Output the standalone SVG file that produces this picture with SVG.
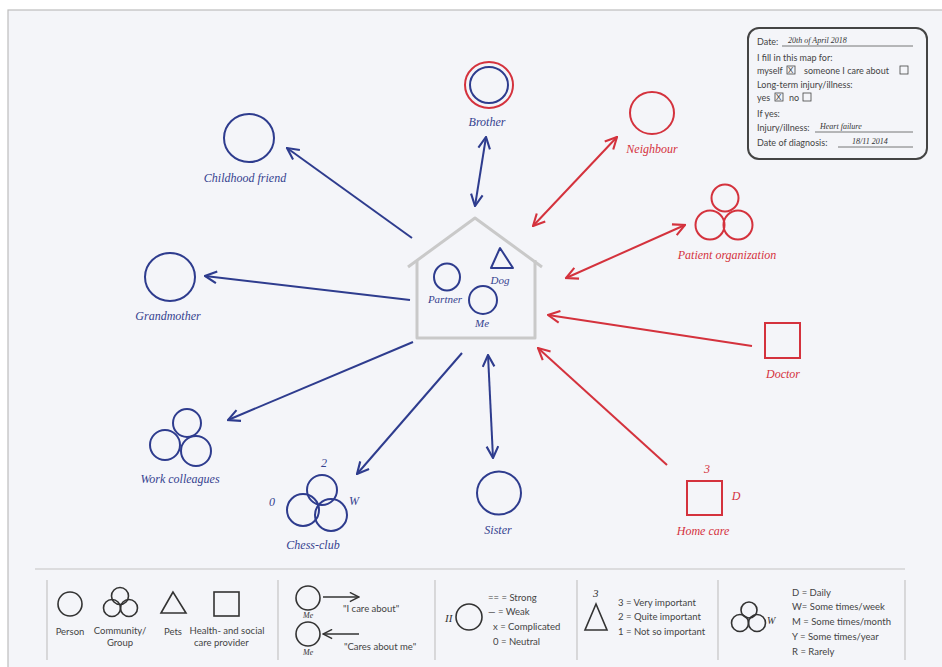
<svg xmlns="http://www.w3.org/2000/svg" width="942" height="667" viewBox="0 0 942 667">
<defs>
<style>
.bl{fill:none;stroke:#2e3c8e;stroke-width:2}
.rd{fill:none;stroke:#d4323d;stroke-width:2}
.lg{fill:none;stroke:#333;stroke-width:1.6}
.sb{font-family:"Liberation Serif",serif;font-style:italic;font-size:12px;fill:#34428f;text-anchor:middle}
.sr{font-family:"Liberation Serif",serif;font-style:italic;font-size:12px;fill:#d4323d;text-anchor:middle}
.t{font-family:Lato,"Liberation Sans",sans-serif;font-size:9.5px;fill:#444}
.tc{font-family:Lato,"Liberation Sans",sans-serif;font-size:9.5px;fill:#444;text-anchor:middle}
.f{font-family:Lato,"Liberation Sans",sans-serif;font-size:9px;fill:#444}
.fs{font-family:"Liberation Serif",serif;font-style:italic;font-size:8px;fill:#333}
.ul{stroke:#555;stroke-width:0.8}
.house{fill:none;stroke:#c9c9c9;stroke-width:3;stroke-linejoin:round}
.sep{stroke:#c4c4c4;stroke-width:1.2}
</style>
<marker id="mb" viewBox="0 0 12 12" refX="11" refY="6" markerWidth="14" markerHeight="14" markerUnits="userSpaceOnUse" orient="auto-start-reverse"><path d="M1,1 L11,6 L1,11" fill="none" stroke="#2e3c8e" stroke-width="1.8"/></marker>
<marker id="mr" viewBox="0 0 12 12" refX="11" refY="6" markerWidth="14" markerHeight="14" markerUnits="userSpaceOnUse" orient="auto-start-reverse"><path d="M1,1 L11,6 L1,11" fill="none" stroke="#d4323d" stroke-width="1.8"/></marker>
<marker id="mk" viewBox="0 0 12 12" refX="11" refY="6" markerWidth="11" markerHeight="11" markerUnits="userSpaceOnUse" orient="auto"><path d="M1,1 L11,6 L1,11" fill="none" stroke="#333" stroke-width="1.6"/></marker>
</defs>
<rect x="0" y="0" width="942" height="667" fill="#ffffff"/>
<rect x="8" y="10" width="940" height="665" fill="#f4f5f9" stroke="#bdbdbd" stroke-width="1.2"/>

<g id="connectors">
<line class="bl" x1="412" y1="238" x2="287" y2="148" marker-end="url(#mb)"/>
<line class="bl" x1="410" y1="300" x2="205" y2="276" marker-end="url(#mb)"/>
<line class="bl" x1="413" y1="342" x2="228" y2="420" marker-end="url(#mb)"/>
<line class="bl" x1="462" y1="353" x2="357" y2="474" marker-end="url(#mb)"/>
<line class="bl" x1="488" y1="355" x2="493" y2="458" marker-start="url(#mb)" marker-end="url(#mb)"/>
<line class="bl" x1="475" y1="206" x2="486" y2="137" marker-start="url(#mb)" marker-end="url(#mb)"/>
<line class="rd" x1="533" y1="226" x2="617" y2="137" marker-start="url(#mr)" marker-end="url(#mr)"/>
<line class="rd" x1="566" y1="278" x2="685" y2="225" marker-start="url(#mr)" marker-end="url(#mr)"/>
<line class="rd" x1="752" y1="346" x2="548" y2="315" marker-end="url(#mr)"/>
<line class="rd" x1="667" y1="465" x2="538" y2="348" marker-end="url(#mr)"/>
</g>

<g id="house">
<polyline class="house" points="408,267 475,218 542,267"/>
<polyline class="house" points="417,260 417,338 535,338 535,260"/>
</g>
<g id="partner">
<ellipse class="bl" cx="447" cy="277" rx="13" ry="13.5"/>
<text class="sb" x="445" y="303" style="font-size:11px">Partner</text>
</g>
<g id="dog">
<polygon class="bl" points="500,248 491,268 513,268" stroke-linejoin="round"/>
<text class="sb" x="500" y="284" style="font-size:11px">Dog</text>
</g>
<g id="me">
<ellipse class="bl" cx="483" cy="300" rx="14" ry="14"/>
<text class="sb" x="482" y="327" style="font-size:11px">Me</text>
</g>

<g id="brother">
<ellipse class="rd" cx="489" cy="85" rx="24" ry="23"/>
<ellipse class="bl" cx="489" cy="85" rx="19" ry="18"/>
<text class="sb" x="487" y="126">Brother</text>
</g>
<g id="neighbour">
<ellipse class="rd" cx="652" cy="113" rx="22" ry="21"/>
<text class="sr" x="652" y="153">Neighbour</text>
</g>
<g id="childhood-friend">
<ellipse class="bl" cx="249" cy="138" rx="25" ry="24"/>
<text class="sb" x="245" y="182">Childhood friend</text>
</g>
<g id="grandmother">
<ellipse class="bl" cx="170" cy="277" rx="25" ry="24"/>
<text class="sb" x="168" y="320">Grandmother</text>
</g>
<g id="patient-organization">
<circle class="rd" cx="725" cy="198" r="13.5"/>
<circle class="rd" cx="710" cy="225" r="14.5"/>
<circle class="rd" cx="738" cy="225" r="14.5"/>
<text class="sr" x="727" y="259">Patient organization</text>
</g>
<g id="doctor">
<rect class="rd" x="765" y="323" width="35" height="35"/>
<text class="sr" x="783" y="378">Doctor</text>
</g>
<g id="work-colleagues">
<circle class="bl" cx="187" cy="423" r="14"/>
<circle class="bl" cx="165" cy="445" r="15"/>
<circle class="bl" cx="196" cy="451" r="15"/>
<text class="sb" x="180" y="483">Work colleagues</text>
</g>
<g id="chess-club">
<circle class="bl" cx="322" cy="490" r="15"/>
<circle class="bl" cx="303" cy="510" r="16"/>
<circle class="bl" cx="331" cy="515" r="16"/>
<text class="sb" x="324" y="467">2</text>
<text class="sb" x="272" y="506">0</text>
<text class="sb" x="354" y="505">W</text>
<text class="sb" x="313" y="549">Chess-club</text>
</g>
<g id="sister">
<ellipse class="bl" cx="499" cy="493" rx="22" ry="21.5"/>
<text class="sb" x="498" y="534">Sister</text>
</g>
<g id="home-care">
<rect class="rd" x="687" y="481" width="35" height="34"/>
<text class="sr" x="707" y="473">3</text>
<text class="sr" x="736" y="500">D</text>
<text class="sr" x="703" y="535">Home care</text>
</g>

<g id="form">
<rect x="748" y="28" width="179" height="131" rx="11" fill="none" stroke="#444" stroke-width="2"/>
<text class="f" x="757" y="45">Date:</text>
<line class="ul" x1="782" y1="46" x2="913" y2="46"/>
<text class="fs" x="788" y="43">20th of April 2018</text>
<text class="f" x="757" y="61">I fill in this map for:</text>
<text class="f" x="757" y="74">myself</text>
<rect x="787" y="66" width="8" height="8" fill="none" stroke="#444" stroke-width="0.8"/>
<text class="f" x="788" y="73" style="font-size:8px">X</text>
<text class="f" x="804" y="74">someone I care about</text>
<rect x="900" y="66" width="8" height="8" fill="none" stroke="#444" stroke-width="0.8"/>
<text class="f" x="757" y="88">Long-term injury/illness:</text>
<text class="f" x="757" y="101">yes</text>
<rect x="775" y="93" width="8" height="8" fill="none" stroke="#444" stroke-width="0.8"/>
<text class="f" x="776" y="100" style="font-size:8px">X</text>
<text class="f" x="789" y="101">no</text>
<rect x="803" y="93" width="8" height="8" fill="none" stroke="#444" stroke-width="0.8"/>
<text class="f" x="757" y="117">If yes:</text>
<text class="f" x="757" y="131">Injury/illness:</text>
<line class="ul" x1="815" y1="132" x2="913" y2="132"/>
<text class="fs" x="820" y="129">Heart failure</text>
<text class="f" x="757" y="146">Date of diagnosis:</text>
<line class="ul" x1="838" y1="147" x2="913" y2="147"/>
<text class="fs" x="852" y="144">18/11 2014</text>
</g>

<g id="legend">
<line class="sep" x1="35" y1="569" x2="905" y2="569"/>
<line class="sep" x1="47" y1="580" x2="47" y2="660"/>
<line class="sep" x1="278" y1="580" x2="278" y2="660"/>
<line class="sep" x1="435" y1="580" x2="435" y2="660"/>
<line class="sep" x1="577" y1="580" x2="577" y2="660"/>
<line class="sep" x1="718" y1="580" x2="718" y2="660"/>
<line class="sep" x1="905" y1="580" x2="905" y2="660"/>

<circle class="lg" cx="70" cy="604" r="12"/>
<text class="tc" x="70" y="635">Person</text>
<circle class="lg" cx="120" cy="596" r="8.5"/>
<circle class="lg" cx="112" cy="608" r="8.5"/>
<circle class="lg" cx="129" cy="608" r="8.5"/>
<text class="tc" x="120" y="634">Community/</text>
<text class="tc" x="120" y="646">Group</text>
<polygon class="lg" points="173,592 161,613 186,613"/>
<text class="tc" x="173" y="635">Pets</text>
<rect class="lg" x="214" y="592" width="25" height="24"/>
<text class="tc" x="227" y="634">Health- and social</text>
<text class="t" x="194" y="646">care provider</text>

<circle class="lg" cx="308" cy="598" r="12"/>
<line class="lg" x1="323" y1="597" x2="359" y2="597" marker-end="url(#mk)"/>
<text class="fs" x="303" y="618">Me</text>
<text class="t" x="343" y="612">"I care about"</text>
<circle class="lg" cx="308" cy="634" r="12"/>
<line class="lg" x1="359" y1="634" x2="323" y2="634" marker-end="url(#mk)"/>
<text class="fs" x="303" y="655">Me</text>
<text class="t" x="344" y="650">"Cares about me"</text>

<text class="fs" x="445" y="622" style="font-size:11px">II</text>
<circle class="lg" cx="469" cy="617" r="13"/>
<text class="t" x="488" y="601">== = Strong</text>
<text class="t" x="488" y="615">— = Weak</text>
<text class="t" x="493" y="630">x = Complicated</text>
<text class="t" x="493" y="645">0 = Neutral</text>

<text class="fs" x="593" y="597" style="font-size:11px">3</text>
<polygon class="lg" points="596,604 585,630 607,630"/>
<text class="t" x="618" y="606">3 = Very important</text>
<text class="t" x="618" y="620">2 = Quite important</text>
<text class="t" x="618" y="635">1 = Not so important</text>

<circle class="lg" cx="749" cy="610" r="8"/>
<circle class="lg" cx="740" cy="623" r="8.5"/>
<circle class="lg" cx="757" cy="623" r="8.5"/>
<text class="fs" x="767" y="624" style="font-size:10px">W</text>
<text class="t" x="792" y="596">D = Daily</text>
<text class="t" x="792" y="610">W= Some times/week</text>
<text class="t" x="792" y="625">M = Some times/month</text>
<text class="t" x="792" y="640">Y = Some times/year</text>
<text class="t" x="792" y="655">R = Rarely</text>
</g>
</svg>
